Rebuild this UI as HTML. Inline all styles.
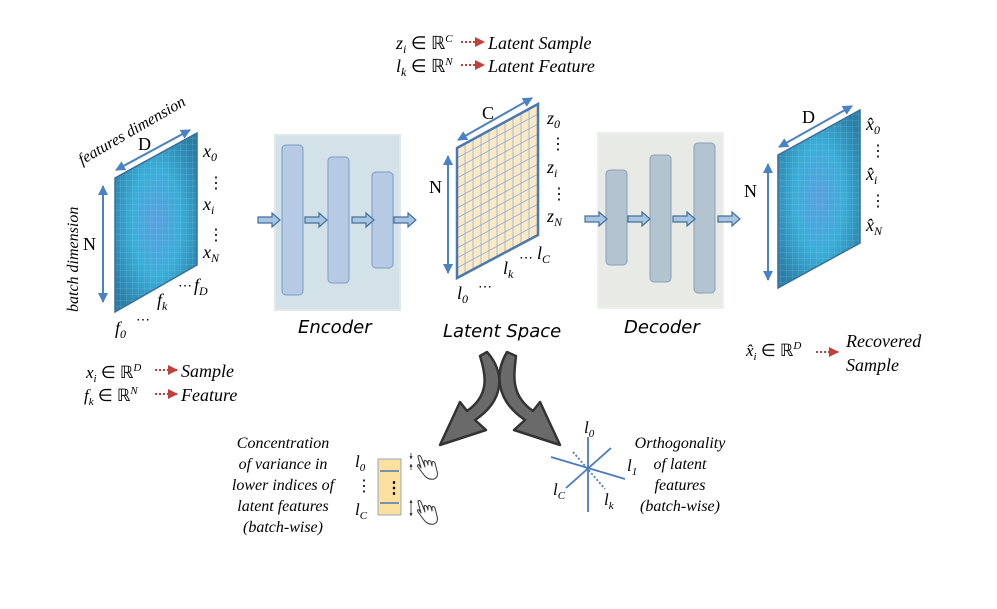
<!DOCTYPE html>
<html><head><meta charset="utf-8"><style>
html,body{margin:0;padding:0;background:#fff;}
svg text{font-family:"Liberation Serif",serif;}
.it{font-style:italic;}
.up{font-style:normal;}
.sans{font-family:"DejaVu Sans","Liberation Sans",sans-serif;}
</style></head><body>
<svg width="997" height="604" viewBox="0 0 997 604" xmlns="http://www.w3.org/2000/svg">
<defs>
<radialGradient id="bg" cx="0.5" cy="0.5" r="0.6">
<stop offset="0" stop-color="#5aa0e0"/><stop offset="0.5" stop-color="#3aaed8"/><stop offset="1" stop-color="#2a7fa8"/>
</radialGradient>
<pattern id="grid" width="6" height="6" patternUnits="userSpaceOnUse">
<path d="M0 0H6M0 0V6" stroke="#9ed3ee" stroke-width="0.5" fill="none" opacity="0.6"/>
</pattern>
<marker id="ah" viewBox="0 0 10 10" refX="9" refY="5" markerWidth="5" markerHeight="5" orient="auto-start-reverse"><path d="M0 0L10 5L0 10z" fill="#4a82c4"/></marker>
<marker id="rh" viewBox="0 0 10 10" refX="9" refY="5" markerWidth="5" markerHeight="5" orient="auto"><path d="M0 0L10 5L0 10z" fill="#c0403a"/></marker>
<marker id="kh" viewBox="0 0 10 10" refX="9" refY="5" markerWidth="4" markerHeight="4" orient="auto-start-reverse"><path d="M0 0L10 5L0 10z" fill="#333"/></marker>
<g id="barr"><path d="M0 -3H14V-7L22 0L14 7V3H0Z" fill="#a8c4e0" stroke="#41709e" stroke-width="1.2"/></g>
<g id="hand" fill="none" stroke="#333" stroke-width="1" stroke-linejoin="round">
<path d="M0 2 L6 10 C8 13 12 15 16 14 C19 13 20 10 19 6 L17 -2 C16 -4 14 -4 14 -2 L14 1 L13 -3 C12 -5 10 -5 10 -3 L10 0 L9 -3 C8 -5 6 -5 6 -3 L7 2 L3 -8 C2 -10 0 -10 0 -8 L3 3 L1 0 C0 -1 -1 0 0 2 Z"/>
</g>
</defs>

<!-- Left plane -->
<polygon points="115,178 197,133 197,265 115,312" fill="url(#bg)"/>
<polygon points="115,178 197,133 197,265 115,312" fill="url(#grid)" stroke="#3a6f9a" stroke-width="1.5"/>
<line x1="116" y1="170" x2="190" y2="130" stroke="#4a82c4" stroke-width="2" marker-start="url(#ah)" marker-end="url(#ah)"/>
<line x1="103" y1="186" x2="103" y2="302" stroke="#4a82c4" stroke-width="2" marker-start="url(#ah)" marker-end="url(#ah)"/>
<text x="138" y="150" font-size="18">D</text>
<text x="83" y="250" font-size="18">N</text>
<text class="it" font-size="16" transform="translate(82,165) rotate(-30)">features dimension</text>
<text class="it" font-size="16" transform="translate(78,312) rotate(-90)">batch dimension</text>
<text class="it" x="203" y="157" font-size="18">x<tspan font-size="12" dy="4">0</tspan></text>
<text x="208" y="188" font-size="16">⋮</text>
<text class="it" x="203" y="210" font-size="18">x<tspan font-size="12" dy="4">i</tspan></text>
<text x="208" y="240" font-size="16">⋮</text>
<text class="it" x="203" y="258" font-size="18">x<tspan font-size="12" dy="4">N</tspan></text>
<text class="it" x="194" y="291" font-size="18">f<tspan font-size="12" dy="4">D</tspan></text>
<text x="178" y="290" font-size="14">⋯</text>
<text class="it" x="157" y="306" font-size="18">f<tspan font-size="12" dy="4">k</tspan></text>
<text x="136" y="324" font-size="14">⋯</text>
<text class="it" x="115" y="334" font-size="18">f<tspan font-size="12" dy="4">0</tspan></text>

<text class="it" x="86" y="378" font-size="17">x<tspan font-size="11" dy="4">i</tspan><tspan class="up" dy="-4"> ∈ ℝ</tspan><tspan font-size="11" dy="-7">D</tspan></text>
<line x1="155" y1="370" x2="177" y2="370" stroke="#c0403a" stroke-width="2" stroke-dasharray="2,2" marker-end="url(#rh)"/>
<text class="it" x="181" y="377" font-size="18">Sample</text>
<text class="it" x="84" y="401" font-size="17">f<tspan font-size="11" dy="4">k</tspan><tspan class="up" dy="-4"> ∈ ℝ</tspan><tspan font-size="11" dy="-7">N</tspan></text>
<line x1="155" y1="394" x2="177" y2="394" stroke="#c0403a" stroke-width="2" stroke-dasharray="2,2" marker-end="url(#rh)"/>
<text class="it" x="181" y="401" font-size="18">Feature</text>

<!-- Encoder -->
<rect x="275" y="135" width="125" height="175" fill="#d2e2e8" stroke="#e2e8ea" stroke-width="2"/>
<rect x="282" y="145" width="21" height="150" rx="4" fill="#b6cbe3" stroke="#7b9cc4"/>
<rect x="328" y="157" width="21" height="126" rx="4" fill="#b6cbe3" stroke="#7b9cc4"/>
<rect x="372" y="172" width="21" height="96" rx="4" fill="#b6cbe3" stroke="#7b9cc4"/>
<use href="#barr" x="258" y="220"/><use href="#barr" x="305" y="220"/><use href="#barr" x="352" y="220"/><use href="#barr" x="394" y="220"/>
<text class="it sans" x="298" y="333" font-size="18">Encoder</text>

<!-- Latent -->
<polygon points="457,148 538,104 538,235 457,278" fill="#fde9c4"/>
<g stroke="#8eaedb" stroke-width="0.8">
<line x1="465" y1="144" x2="465" y2="274"/><line x1="473" y1="140" x2="473" y2="270"/><line x1="481" y1="135" x2="481" y2="265"/><line x1="489" y1="131" x2="489" y2="261"/><line x1="497" y1="126" x2="497" y2="257"/><line x1="505" y1="122" x2="505" y2="253"/><line x1="513" y1="118" x2="513" y2="248"/><line x1="521" y1="113" x2="521" y2="244"/><line x1="529" y1="109" x2="529" y2="240"/>
<line x1="457" y1="158" x2="538" y2="114"/><line x1="457" y1="168" x2="538" y2="124"/><line x1="457" y1="178" x2="538" y2="134"/><line x1="457" y1="188" x2="538" y2="144"/><line x1="457" y1="198" x2="538" y2="154"/><line x1="457" y1="208" x2="538" y2="164"/><line x1="457" y1="218" x2="538" y2="174"/><line x1="457" y1="228" x2="538" y2="184"/><line x1="457" y1="238" x2="538" y2="194"/><line x1="457" y1="248" x2="538" y2="204"/><line x1="457" y1="258" x2="538" y2="214"/><line x1="457" y1="268" x2="538" y2="224"/>
</g>
<polygon points="457,148 538,104 538,235 457,278" fill="none" stroke="#4a78b0" stroke-width="2.5"/>
<line x1="458" y1="140" x2="532" y2="98" stroke="#4a82c4" stroke-width="2" marker-start="url(#ah)" marker-end="url(#ah)"/>
<line x1="448" y1="156" x2="448" y2="273" stroke="#4a82c4" stroke-width="2" marker-start="url(#ah)" marker-end="url(#ah)"/>
<text x="482" y="119" font-size="18">C</text>
<text x="429" y="193" font-size="18">N</text>
<text class="it" x="547" y="124" font-size="18">z<tspan font-size="12" dy="4">0</tspan></text>
<text x="550" y="149" font-size="16">⋮</text>
<text class="it" x="547" y="173" font-size="18">z<tspan font-size="12" dy="4">i</tspan></text>
<text x="551" y="199" font-size="16">⋮</text>
<text class="it" x="547" y="222" font-size="18">z<tspan font-size="12" dy="4">N</tspan></text>
<text class="it" x="537" y="259" font-size="18">l<tspan font-size="12" dy="4">C</tspan></text>
<text x="519" y="262" font-size="14">⋯</text>
<text class="it" x="503" y="274" font-size="18">l<tspan font-size="12" dy="4">k</tspan></text>
<text x="478" y="291" font-size="14">⋯</text>
<text class="it" x="457" y="299" font-size="18">l<tspan font-size="12" dy="4">0</tspan></text>
<text class="it sans" x="443" y="337" font-size="18">Latent Space</text>

<text class="it" x="396" y="49" font-size="18">z<tspan font-size="12" dy="4">i</tspan><tspan class="up" dy="-4"> ∈ ℝ</tspan><tspan font-size="11" dy="-7">C</tspan></text>
<line x1="461" y1="42" x2="484" y2="42" stroke="#c0403a" stroke-width="2" stroke-dasharray="2,2" marker-end="url(#rh)"/>
<text class="it" x="488" y="49" font-size="18">Latent Sample</text>
<text class="it" x="396" y="72" font-size="18">l<tspan font-size="12" dy="4">k</tspan><tspan class="up" dy="-4"> ∈ ℝ</tspan><tspan font-size="11" dy="-7">N</tspan></text>
<line x1="461" y1="65" x2="484" y2="65" stroke="#c0403a" stroke-width="2" stroke-dasharray="2,2" marker-end="url(#rh)"/>
<text class="it" x="488" y="72" font-size="18">Latent Feature</text>

<!-- Decoder -->
<rect x="598" y="133" width="125" height="175" fill="#e8eae6" stroke="#eef0ee" stroke-width="2"/>
<rect x="606" y="170" width="21" height="95" rx="4" fill="#b3c3d0" stroke="#8aa0b8"/>
<rect x="650" y="155" width="21" height="127" rx="4" fill="#b3c3d0" stroke="#8aa0b8"/>
<rect x="694" y="143" width="21" height="150" rx="4" fill="#b3c3d0" stroke="#8aa0b8"/>
<use href="#barr" x="585" y="219"/><use href="#barr" x="628" y="219"/><use href="#barr" x="673" y="219"/><use href="#barr" x="718" y="219"/>
<text class="it sans" x="624" y="333" font-size="18">Decoder</text>

<!-- Right plane -->
<polygon points="778,155 860,110 860,243 778,288" fill="url(#bg)"/>
<polygon points="778,155 860,110 860,243 778,288" fill="url(#grid)" stroke="#3a6f9a" stroke-width="1.5"/>
<line x1="779" y1="147" x2="852" y2="106" stroke="#4a82c4" stroke-width="2" marker-start="url(#ah)" marker-end="url(#ah)"/>
<line x1="768" y1="164" x2="768" y2="280" stroke="#4a82c4" stroke-width="2" marker-start="url(#ah)" marker-end="url(#ah)"/>
<text x="802" y="123" font-size="18">D</text>
<text x="744" y="197" font-size="18">N</text>
<text class="it" x="866" y="130" font-size="18">x̂<tspan font-size="12" dy="4">0</tspan></text>
<text x="870" y="156" font-size="16">⋮</text>
<text class="it" x="866" y="180" font-size="18">x̂<tspan font-size="12" dy="4">i</tspan></text>
<text x="870" y="206" font-size="16">⋮</text>
<text class="it" x="866" y="231" font-size="18">x̂<tspan font-size="12" dy="4">N</tspan></text>
<text class="it" x="746" y="356" font-size="17">x̂<tspan font-size="11" dy="4">i</tspan><tspan class="up" dy="-4"> ∈ ℝ</tspan><tspan font-size="11" dy="-7">D</tspan></text>
<line x1="816" y1="352" x2="838" y2="352" stroke="#c0403a" stroke-width="2" stroke-dasharray="2,2" marker-end="url(#rh)"/>
<text class="it" x="846" y="347" font-size="18">Recovered</text>
<text class="it" x="846" y="371" font-size="18">Sample</text>

<!-- Curved arrows -->
<path d="M487 352 C505 372 505 400 475 420 L486 430 L440 445 L460 402 L467 411 C490 395 486 375 480 356 Z" fill="#6a6a6a" stroke="#333" stroke-width="2.5" stroke-linejoin="round"/>
<path d="M507 352 C495 372 495 400 525 420 L514 430 L560 445 L540 402 L533 411 C510 395 514 375 516 356 Z" fill="#6a6a6a" stroke="#333" stroke-width="2.5" stroke-linejoin="round"/>

<!-- Bottom left -->
<g class="it" font-size="16" text-anchor="middle">
<text x="283" y="448">Concentration</text>
<text x="283" y="469">of variance in</text>
<text x="283" y="490">lower indices of</text>
<text x="283" y="511">latent features</text>
<text x="283" y="532">(batch-wise)</text>
</g>
<text class="it" x="355" y="467" font-size="17">l<tspan font-size="11" dy="4">0</tspan></text>
<text x="356" y="491" font-size="16">⋮</text>
<text class="it" x="355" y="515" font-size="17">l<tspan font-size="11" dy="4">C</tspan></text>
<rect x="378" y="459" width="23" height="56" fill="#fbe0a0" stroke="#9aa8b8"/>
<line x1="380" y1="471" x2="399" y2="471" stroke="#4a78b0" stroke-width="1.5"/>
<line x1="380" y1="503" x2="399" y2="503" stroke="#4a78b0" stroke-width="1.5"/>
<text x="386" y="493" font-size="16" font-weight="bold">⋮</text>
<line x1="411" y1="453" x2="411" y2="459" stroke="#333" stroke-width="0.8" marker-end="url(#kh)"/>
<line x1="411" y1="470" x2="411" y2="464" stroke="#333" stroke-width="0.8" marker-end="url(#kh)"/>
<line x1="411" y1="500" x2="411" y2="516" stroke="#333" stroke-width="0.8" marker-start="url(#kh)" marker-end="url(#kh)"/>
<use href="#hand" x="418" y="465"/>
<use href="#hand" x="418" y="510"/>

<!-- Bottom right -->
<g stroke="#4a7ac0" stroke-width="1.8">
<line x1="588" y1="437" x2="588" y2="512"/>
<line x1="551" y1="457" x2="625" y2="479"/>
<line x1="566" y1="488" x2="611" y2="448"/>
<line x1="573" y1="452" x2="605" y2="489" stroke-dasharray="2,2"/>
</g>
<text class="it" x="584" y="433" font-size="17">l<tspan font-size="11" dy="4">0</tspan></text>
<text class="it" x="627" y="471" font-size="17">l<tspan font-size="11" dy="4">1</tspan></text>
<text class="it" x="553" y="495" font-size="17">l<tspan font-size="11" dy="4">C</tspan></text>
<text class="it" x="604" y="505" font-size="17">l<tspan font-size="11" dy="4">k</tspan></text>
<g class="it" font-size="16" text-anchor="middle">
<text x="680" y="448">Orthogonality</text>
<text x="680" y="469">of latent</text>
<text x="680" y="490">features</text>
<text x="680" y="511">(batch-wise)</text>
</g>
</svg>
</body></html>
